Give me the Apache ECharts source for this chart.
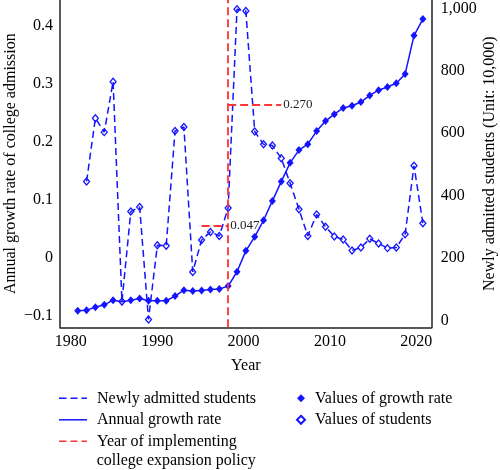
<!DOCTYPE html>
<html lang="en">
<head>
<meta charset="UTF-8">
<title>College admission</title>
<script src="https://cdn.jsdelivr.net/npm/echarts@6/dist/echarts.min.js"></script>
<style>
  html, body { margin: 0; padding: 0; background: #fff; }
  #main { width: 500px; height: 470px; }
</style>
</head>
<body>
<div id="main"></div>
<script>
// years of the solid series (admitted students, unit 10,000)
var years = [1981, 1982, 1983, 1984, 1985, 1986, 1987, 1988, 1989, 1990,
             1991, 1992, 1993, 1994, 1995, 1996, 1997, 1998, 1999, 2000,
             2001, 2002, 2003, 2004, 2005, 2006, 2007, 2008, 2009, 2010,
             2011, 2012, 2013, 2014, 2015, 2016, 2017, 2018, 2019, 2020];
var students = [31, 33, 42, 50, 65, 60, 65, 70, 63, 63,
                63, 78, 97, 94, 96, 99, 101, 110, 156, 223,
                268, 321, 383, 445, 505, 546, 565, 607, 639, 661,
                681, 688, 700, 721, 738, 748, 760, 790, 913, 966];
// growth rate starts one year later
var rateYears = [1982, 1983, 1984, 1985, 1986, 1987, 1988, 1989, 1990,
                 1991, 1992, 1993, 1994, 1995, 1996, 1997, 1998, 1999, 2000,
                 2001, 2002, 2003, 2004, 2005, 2006, 2007, 2008, 2009, 2010,
                 2011, 2012, 2013, 2014, 2015, 2016, 2017, 2018, 2019, 2020];
var growthRate = [0.132, 0.241, 0.217, 0.304, -0.075, 0.080, 0.088, -0.106, 0.022,
                  0.021, 0.219, 0.226, -0.024, 0.031, 0.045, 0.038, 0.086, 0.429, 0.426,
                  0.218, 0.196, 0.194, 0.172, 0.129, 0.084, 0.038, 0.075, 0.054, 0.037,
                  0.032, 0.013, 0.018, 0.033, 0.025, 0.017, 0.018, 0.041, 0.159, 0.060];

var yearTicks = [1980, 1990, 2000, 2010, 2020];
var rateTicks = [-0.1, 0, 0.1, 0.2, 0.3, 0.4];
var studentTicks = [0, 200, 400, 600, 800, 1000];

var policyYear = 1998;
// short red reference segments on the rate axis
var refFrom = [1995, 1998];
var refTo = [1998, 2004];
var refLevel = [0.0557, 0.265];
var refText = ['0.047', '0.270'];

var BLUE = '#1414ff';
var RED = '#ff3333';
var FONT = 'Liberation Serif';

// legend line icons (plain line / three dashes)
var ICON_SOLID = 'path://M0,0H28V1.5H0Z';
var ICON_DASH = 'path://M0,0H7.5V1.5H0Z M11.5,0H18.5V1.5H11.5Z M22.5,0H28V1.5H22.5Z';

function pairs(xs, ys) {
  return xs.map(function (x, i) { return [x, ys[i]]; });
}

var refLines = [{ xAxis: policyYear, label: { show: false } }];
refText.forEach(function (t, i) {
  var lab = { show: true, position: 'end', formatter: t, distance: 2,
              color: '#222', fontSize: 13, fontFamily: FONT };
  refLines.push([
    { coord: [refFrom[i], refLevel[i]], label: lab },
    { coord: [refTo[i], refLevel[i]], label: lab }
  ]);
});

var chart = echarts.init(document.getElementById('main'));
var axisLineStyle = { color: '#222', width: 1.5 };

chart.setOption({
  animation: false,
  textStyle: { fontFamily: FONT, color: '#000' },
  grid: { left: 60, right: 68.3, top: 0, bottom: 142.7, outerBoundsMode: 'none', containLabel: false },
  xAxis: [{
    type: 'value', min: 1979, max: 2021,
    position: 'bottom',
    name: 'Year', nameLocation: 'middle', nameGap: 30,
    nameTextStyle: { fontSize: 16, fontFamily: FONT, color: '#000' },
    axisLine: { show: true, onZero: false, lineStyle: axisLineStyle },
    axisTick: { show: false },
    axisLabel: { show: false },
    splitLine: { show: false }
  }, {
    // tick labels of the year axis
    type: 'value', min: 1978.75, max: 2021.78,
    position: 'bottom',
    axisLine: { show: false, onZero: false },
    axisTick: { show: false },
    splitLine: { show: false },
    axisLabel: {
      customValues: yearTicks, margin: 6, fontSize: 16, color: '#000', fontFamily: FONT,
      formatter: function (v) { return String(v); }
    }
  }],
  yAxis: [{
    type: 'value', min: -0.1195, max: 0.4448,
    position: 'left',
    name: 'Annual growth rate of college admission',
    nameLocation: 'middle', nameGap: 41, nameMoveOverlap: false,
    nameTextStyle: { fontSize: 16, fontFamily: FONT, color: '#000' },
    axisLine: { show: true, onZero: false, lineStyle: axisLineStyle },
    axisTick: { show: false },
    splitLine: { show: false },
    axisLabel: {
      customValues: rateTicks, margin: 7, fontSize: 16, color: '#000', fontFamily: FONT,
      formatter: function (v) {
        if (Math.abs(v) < 1e-9) return '0';
        return (v < 0 ? '\u2212' : '') + Math.abs(v).toFixed(1);
      }
    }
  }, {
    type: 'value', min: -22, max: 1027,
    position: 'right',
    name: 'Newly admitted students (Unit: 10,000)',
    nameLocation: 'middle', nameGap: 50, nameMoveOverlap: false,
    nameTextStyle: { fontSize: 16, fontFamily: FONT, color: '#000' },
    axisLine: { show: true, onZero: false, lineStyle: axisLineStyle },
    axisTick: { show: false },
    splitLine: { show: false },
    axisLabel: {
      customValues: studentTicks, margin: 9, fontSize: 16, color: '#000', fontFamily: FONT,
      formatter: function (v) { return v.toLocaleString('en-US'); }
    }
  }],
  legend: [{
    left: 59, top: 389.3, orient: 'vertical', padding: 0,
    itemWidth: 28, itemHeight: 14, itemGap: 3.5,
    textStyle: { fontSize: 16, lineHeight: 18, color: '#000', fontFamily: FONT, padding: [0, 0, 0, 5] },
    data: [
      { name: 'Newly admitted students', icon: ICON_DASH },
      { name: 'Annual growth rate', icon: ICON_SOLID },
      { name: 'Year of implementing college expansion policy', icon: ICON_DASH }
    ],
    formatter: function (n) {
      return n.indexOf('Year of') === 0 ? 'Year of implementing' : n;
    }
  }, {
    left: 296, top: 389.3, orient: 'vertical', padding: 0,
    itemWidth: 8, itemHeight: 8, itemGap: 3.5,
    textStyle: { fontSize: 16, lineHeight: 18, color: '#000', fontFamily: FONT, padding: [0, 0, 0, 5] },
    data: ['Values of growth rate', 'Values of students']
  }],
  graphic: [{
    type: 'text', left: 96.7, top: 452.5,
    style: { text: 'college expansion policy', font: '16px "Liberation Serif"', fill: '#000' }
  }],
  series: [{
    name: 'Newly admitted students', type: 'line',
    xAxisIndex: 0, yAxisIndex: 0,
    data: pairs(rateYears, growthRate),
    symbol: 'none',
    lineStyle: { color: BLUE, width: 1.5, type: [7, 4] },
    itemStyle: { color: BLUE }
  }, {
    name: 'Annual growth rate', type: 'line',
    xAxisIndex: 0, yAxisIndex: 1,
    data: pairs(years, students),
    symbol: 'none',
    lineStyle: { color: BLUE, width: 1.5 },
    itemStyle: { color: BLUE }
  }, {
    name: 'Year of implementing college expansion policy', type: 'line',
    xAxisIndex: 0, yAxisIndex: 0,
    data: [],
    symbol: 'none',
    lineStyle: { color: RED, width: 1.5, type: [7, 4] },
    itemStyle: { color: RED },
    markLine: {
      silent: true, symbol: 'none',
      lineStyle: { color: RED, width: 1.8, type: [8, 4] },
      data: refLines
    }
  }, {
    name: 'Values of growth rate', type: 'scatter',
    xAxisIndex: 0, yAxisIndex: 1,
    data: pairs(years, students),
    symbol: 'diamond', symbolSize: [7, 8],
    itemStyle: { color: BLUE, opacity: 1 }
  }, {
    name: 'Values of students', type: 'scatter',
    xAxisIndex: 0, yAxisIndex: 0,
    data: pairs(rateYears, growthRate),
    symbol: 'diamond', symbolSize: [6, 7],
    itemStyle: { color: '#fff', borderColor: BLUE, borderWidth: 1.3, opacity: 1 }
  }]
});
</script>
</body>
</html>
